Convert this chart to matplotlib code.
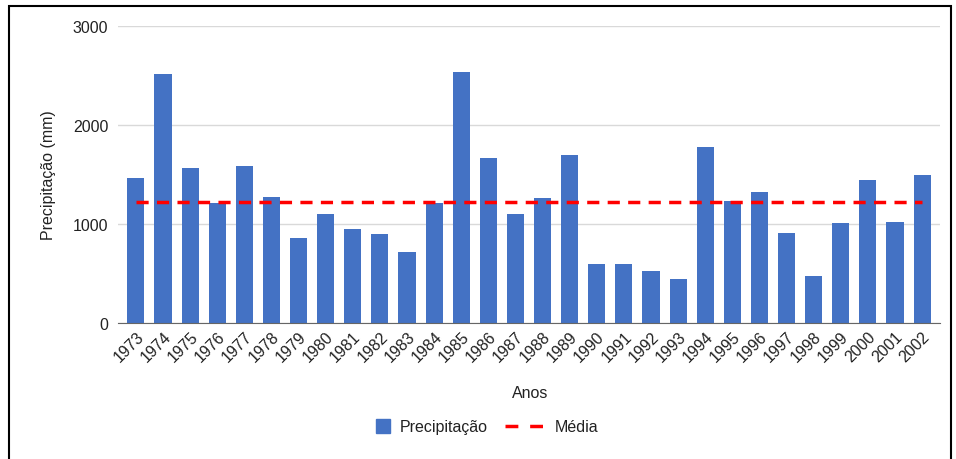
import matplotlib.pyplot as plt
import matplotlib.patches as mpatches
from matplotlib.lines import Line2D
from matplotlib.legend_handler import HandlerPatch

plt.rcParams['font.family'] = ['Liberation Sans', 'DejaVu Sans']

# values (mm)
anos = [str(a) for a in range(1973, 2003)]
precipitacao = [1462, 2520, 1566, 1210, 1586, 1277, 860, 1102, 954, 900,
                713, 1217, 2533, 1666, 1102, 1267, 1694, 598, 598, 527,
                447, 1781, 1230, 1321, 910, 471, 1011, 1449, 1021, 1495]
media = 1220
yticks = [0, 1000, 2000, 3000]

W, H = 956, 460
FS = 11.5
txt = '#222222'
fig = plt.figure(figsize=(W / 100, H / 100), dpi=100)

# frame around the chart
fig.patches.append(mpatches.Rectangle((9 / W, -0.05), 942 / W, (H - 7) / H + 0.05,
                                      transform=fig.transFigure, fill=False,
                                      edgecolor='black', linewidth=1.5))

# rect [L, B, W, H] in pixels -> fraction
ax = fig.add_axes([118 / W, (H - 324) / H, 822 / W, 297 / H])

x = list(range(len(anos)))
ax.bar(x, precipitacao, width=0.63, color='#4472C4', zorder=2)
ax.plot([x[0], x[-1]], [media, media], color='#ff0000', linewidth=2.5,
        linestyle=(0, (3.5, 2.4)), zorder=3)

ax.set_xlim(-0.66, len(anos) - 1 + 0.66)
ax.set_ylim(0, 3000)
ax.set_yticks(yticks)
ax.set_yticklabels([str(v) for v in yticks], fontsize=FS, color=txt)
ax.set_xticks(x)
ax.set_xticklabels(anos, rotation=45, ha='right', rotation_mode='anchor',
                   fontsize=FS, color=txt)
ax.tick_params(axis='both', length=0)
ax.tick_params(axis='y', pad=7)
ax.tick_params(axis='x', pad=4)

ax.grid(axis='y', color='#d9d9d9', linewidth=1, zorder=0)
for s in ['top', 'right', 'left']:
    ax.spines[s].set_visible(False)
ax.spines['bottom'].set_color('#666666')
ax.spines['bottom'].set_zorder(4)

ax.set_ylabel('Precipitação (mm)', fontsize=FS, color=txt, labelpad=12)
fig.text(530 / W, 1 - 394 / H, 'Anos', fontsize=FS, color=txt,
         ha='center', va='center')


def square(legend, orig_handle, xdescent, ydescent, width, height, fontsize):
    s = 10.0
    return mpatches.Rectangle((width - xdescent - s, -ydescent + (height - s) / 2), s, s)


handles = [mpatches.Patch(color='#4472C4'),
           Line2D([0], [0], color='#ff0000', linewidth=2.5, linestyle=(0, (3.7, 3.4)))]
fig.legend(handles, ['Precipitação', 'Média'], loc='center',
           bbox_to_anchor=(474 / W, 1 - 428 / H), ncol=2, frameon=False,
           fontsize=FS, handlelength=2.5, columnspacing=1.1,
           handletextpad=0.6, labelcolor=txt,
           handler_map={mpatches.Patch: HandlerPatch(patch_func=square)})

fig.savefig('out.png', dpi=100)
